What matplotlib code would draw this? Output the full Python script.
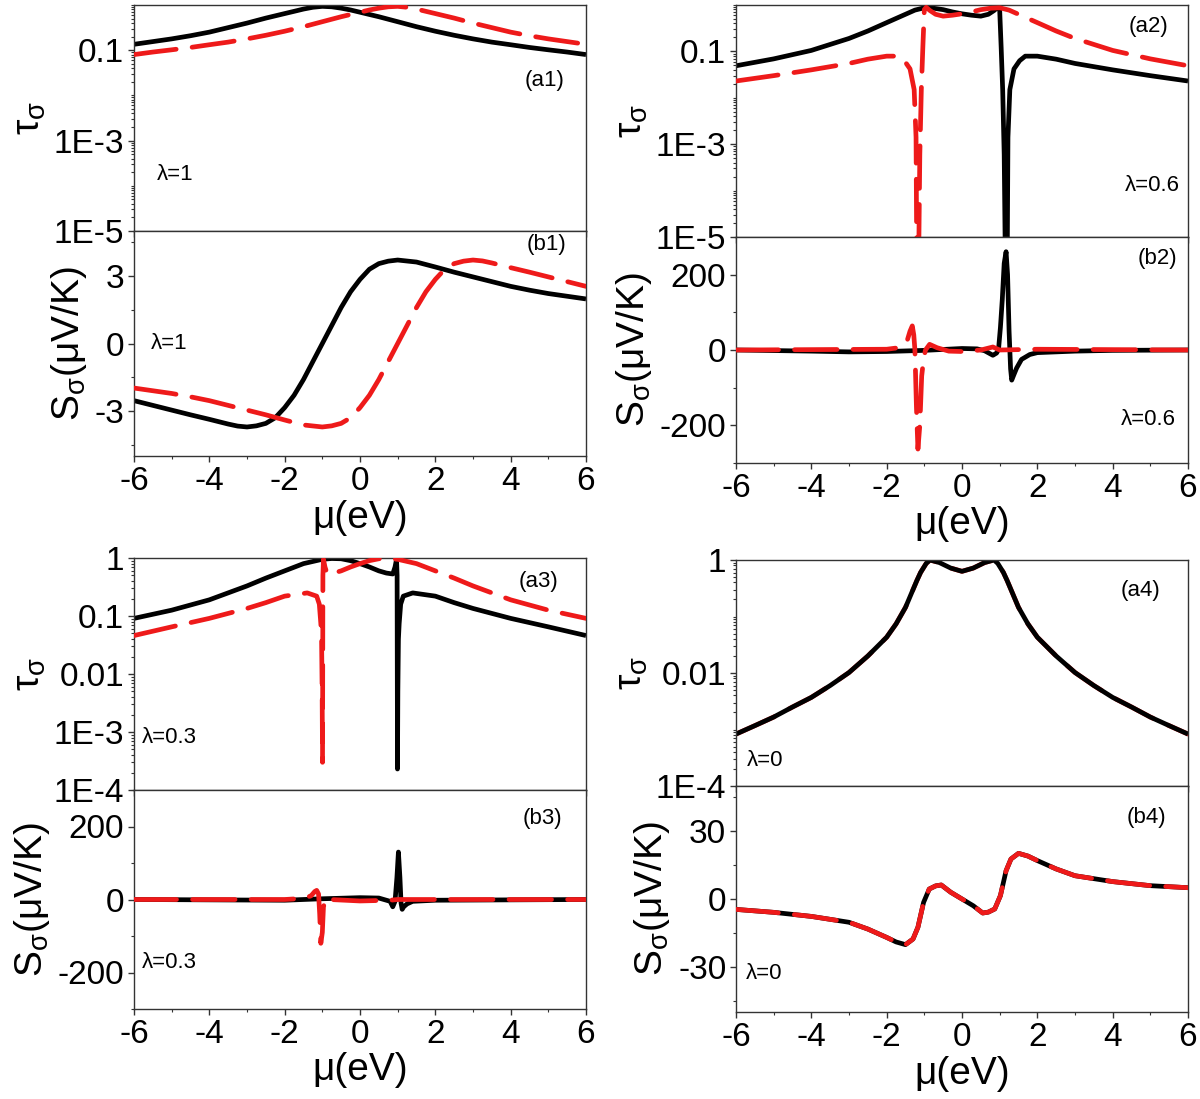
import matplotlib
matplotlib.use('Agg')
import matplotlib.pyplot as plt
import numpy as np
from matplotlib.ticker import FixedLocator, FuncFormatter, MultipleLocator, LogLocator, NullFormatter

plt.rcParams['font.family'] = ['Liberation Sans', 'DejaVu Sans']
plt.rcParams['mathtext.fontset'] = 'custom'
plt.rcParams['mathtext.rm'] = 'Liberation Sans'
plt.rcParams['mathtext.it'] = 'Liberation Sans'
plt.rcParams['mathtext.default'] = 'regular'
plt.rcParams['axes.unicode_minus'] = False

# ---- lambda = 1 ----
mu_a1 = [-6, -5.5, -5, -4.5, -4, -3.5, -3, -2.5, -2, -1.75, -1.5, -1.25, -1, -0.75, -0.5, -0.25, 0,
         0.5, 1, 1.5, 2, 2.5, 3, 3.5, 4, 4.5, 5, 5.5, 6]
tau_a1_k = [0.135, 0.155, 0.178, 0.209, 0.251, 0.316, 0.398, 0.513, 0.646, 0.724, 0.813, 0.891, 0.933, 0.912, 0.851, 0.776, 0.692,
            0.55, 0.427, 0.331, 0.263, 0.214, 0.178, 0.151, 0.132, 0.115, 0.102, 0.091, 0.08]
mu_a1_r = [-6, -5.5, -5, -4.5, -4, -3.5, -3, -2.5, -2, -1.5, -1, -0.5, 0, 0.25, 0.5, 0.75, 1,
           1.25, 1.5, 1.75, 2, 2.5, 3, 3.5, 4, 4.5, 5, 5.5, 6]
tau_a1_r = [0.08, 0.091, 0.102, 0.115, 0.132, 0.151, 0.178, 0.214, 0.263, 0.331, 0.427, 0.55, 0.692, 0.776, 0.851, 0.912, 0.933,
            0.891, 0.813, 0.724, 0.646, 0.513, 0.398, 0.316, 0.251, 0.209, 0.178, 0.155, 0.135]

mu_b1_k = [-6, -5.5, -5, -4.5, -4, -3.5, -3.25, -3, -2.75, -2.5, -2.25, -2, -1.75, -1.5, -1.25, -1, -0.75, -0.5, -0.25, 0,
           0.25, 0.5, 0.75, 1, 1.5, 2, 2.5, 3, 3.5, 4, 4.5, 5, 5.5, 6]
S_b1_k = [-2.54, -2.75, -2.96, -3.17, -3.37, -3.58, -3.67, -3.71, -3.66, -3.55, -3.3, -2.85, -2.3, -1.6, -0.8, 0, 0.8, 1.6, 2.3, 2.85,
          3.3, 3.55, 3.66, 3.71, 3.62, 3.4, 3.17, 2.96, 2.75, 2.54, 2.37, 2.22, 2.1, 1.98]
mu_b1_r = [-6, -5.5, -5, -4.5, -4, -3.5, -3, -2.5, -2, -1.5, -1, -0.75, -0.5, -0.25, 0, 0.25, 0.5, 0.75, 1,
           1.25, 1.5, 1.75, 2, 2.25, 2.5, 2.75, 3, 3.25, 3.5, 4, 4.5, 5, 5.5, 6]
S_b1_r = [-1.98, -2.1, -2.22, -2.37, -2.54, -2.75, -2.96, -3.17, -3.4, -3.62, -3.71, -3.66, -3.55, -3.3, -2.85, -2.3, -1.6, -0.8, 0,
          0.8, 1.6, 2.3, 2.85, 3.3, 3.55, 3.66, 3.71, 3.67, 3.58, 3.37, 3.17, 2.96, 2.75, 2.54]

# ---- lambda = 0.6 ----
mu_a2_k = [-6, -5, -4, -3, -2.5, -2, -1.5, -1.25, -1, -0.75, -0.5, -0.25, 0, 0.25, 0.5, 0.7, 0.85, 0.95, 1.0, 1.04, 1.08, 1.12,
           1.17, 1.19, 1.22, 1.27, 1.38, 1.53, 1.68, 2, 2.5, 3, 4, 5, 6]
tau_a2_k = [0.049, 0.069, 0.105, 0.19, 0.275, 0.417, 0.631, 0.776, 0.871, 0.851, 0.794, 0.708, 0.646, 0.603, 0.575, 0.631, 0.759,
            0.891, 0.8, 0.12, 0.015, 6e-4, 1e-7, 1e-7, 1.4e-3, 0.015, 0.042, 0.063, 0.079, 0.079, 0.068, 0.055, 0.04, 0.03, 0.023]
mu_a2_r = [-6, -5, -4, -3, -2.5, -2, -1.68, -1.53, -1.38, -1.27, -1.22, -1.19, -1.17, -1.12, -1.08, -1.04, -1.0, -0.95, -0.85,
           -0.7, -0.5, -0.25, 0, 0.25, 0.5, 0.75, 1, 1.25, 1.5, 2, 2.5, 3, 4, 5, 6]
tau_a2_r = [0.023, 0.03, 0.04, 0.055, 0.068, 0.079, 0.079, 0.063, 0.042, 0.015, 1.4e-3, 1e-7, 1e-7, 6e-4, 0.015, 0.12, 0.8,
            0.891, 0.759, 0.631, 0.575, 0.603, 0.646, 0.708, 0.794, 0.851, 0.871, 0.776, 0.631, 0.417, 0.275, 0.19, 0.105, 0.069, 0.049]

mu_b2_k = [-6, -4, -3, -2, -1, 0, 0.4, 0.6, 0.82, 0.92, 0.97, 1.02, 1.07, 1.12, 1.17, 1.21, 1.25, 1.29, 1.32, 1.38, 1.45, 1.58,
           1.8, 2, 3, 4, 6]
S_b2_k = [0, -3, -5, -4, -1, 4, 3, -2, -14, -8, 2, 60, 135, 230, 261, 200, 50, -50, -80, -65, -48, -25, -12, -7, -3, -1, 0]
mu_b2_r = [-6, -4, -2, -1.68, -1.47, -1.38, -1.32, -1.28, -1.25, -1.21, -1.17, -1.12, -1.07, -1.02, -0.97, -0.86, -0.66, -0.35,
           0, 0.5, 0.82, 1, 2, 4, 6]
S_b2_r = [0, 1, 2, 6, 20, 50, 64, 40, 0, -150, -263, -200, -69, -25, 0, 15, 6, -3, -4, 0, 8, 0, 2, 1, 0]

# ---- lambda = 0.3 ----
mu_a3_k = [-6, -5, -4, -3, -2.5, -2, -1.5, -1, -0.75, -0.5, -0.25, 0, 0.25, 0.5, 0.7, 0.87, 0.93, 0.97, 0.985, 0.995, 1.005,
           1.02, 1.04, 1.08, 1.15, 1.4, 2, 2.5, 3, 4, 5, 6]
tau_a3_k = [0.091, 0.126, 0.19, 0.33, 0.45, 0.6, 0.8, 0.95, 0.98, 0.97, 0.9, 0.8, 0.7, 0.6, 0.55, 0.53, 0.7, 0.95, 0.5, 2.3e-4,
            0.005, 0.04, 0.074, 0.16, 0.22, 0.25, 0.22, 0.17, 0.135, 0.091, 0.065, 0.046]
mu_a3_r = [-6, -5, -4, -3, -2.5, -2, -1.4, -1.15, -1.08, -1.04, -1.02, -1.005, -0.995, -0.985, -0.97, -0.93, -0.87, -0.7, -0.5,
           -0.25, 0, 0.25, 0.5, 0.75, 1, 1.5, 2, 2.5, 3, 4, 5, 6]
tau_a3_r = [0.046, 0.065, 0.091, 0.135, 0.17, 0.22, 0.25, 0.22, 0.16, 0.074, 0.04, 0.005, 3e-4, 0.5, 0.95, 0.7, 0.53, 0.55, 0.6,
            0.7, 0.8, 0.9, 0.97, 0.98, 0.95, 0.8, 0.6, 0.45, 0.33, 0.19, 0.126, 0.091]

mu_b3_k = [-6, -2, -1, 0, 0.5, 0.8, 0.87, 0.93, 0.98, 1.02, 1.06, 1.09, 1.12, 1.16, 1.25, 1.4, 2, 6]
S_b3_k = [0, -2, 2, 5, 4, -5, -20, -5, 60, 130, 60, -10, -27, -20, -12, -5, -2, 0]
mu_b3_r = [-6, -2, -1.5, -1.3, -1.2, -1.15, -1.1, -1.07, -1.04, -1.0, -0.97, -0.9, -0.8, 0, 0.8, 1, 6]
S_b3_r = [0, 0, 3, 10, 22, 25, 15, -40, -120, -90, -20, 5, 0, -4, -2, 0, 0]

# ---- lambda = 0 ----
mu_a4 = [-6, -5.5, -5, -4.5, -4, -3.5, -3, -2.5, -2, -1.75, -1.5, -1.35, -1.2, -1.1, -0.95, -0.85, -0.6, -0.3, 0,
         0.3, 0.6, 0.85, 0.95, 1.1, 1.2, 1.35, 1.5, 1.75, 2, 2.5, 3, 3.5, 4, 4.5, 5, 5.5, 6]
tau_a4 = [8.3e-4, 1.17e-3, 1.66e-3, 2.5e-3, 3.7e-3, 6e-3, 0.0102, 0.02, 0.043, 0.074, 0.145, 0.25, 0.43, 0.6, 0.87, 1.0, 0.9, 0.72,
          0.63, 0.72, 0.9, 1.0, 0.87, 0.6, 0.43, 0.25, 0.145, 0.074, 0.043, 0.02, 0.0102, 6e-3, 3.7e-3, 2.5e-3, 1.66e-3, 1.17e-3, 8.3e-4]

mu_b4 = [-6, -5, -4, -3, -2.5, -2, -1.75, -1.5, -1.3, -1.17, -1.02, -0.87, -0.7, -0.55, -0.3, 0,
         0.3, 0.55, 0.7, 0.87, 1.02, 1.17, 1.3, 1.5, 1.75, 2, 2.5, 3, 4, 5, 6]
S_b4 = [-4.6, -5.9, -7.7, -10.3, -13.3, -17, -19, -20.2, -17.7, -12.5, -1.5, 4.4, 5.8, 6.2, 3, 0,
        -3, -6.2, -5.8, -4.4, 1.5, 12.5, 17.7, 20.2, 19, 17, 13.3, 10.3, 7.7, 5.9, 5.0]

W, H = 1200, 1099
fig = plt.figure(figsize=(W / 100, H / 100), dpi=100)


def rect(l, r, top, bot):
    return [l / W, 1 - bot / H, (r - l) / W, (bot - top) / H]


def logfmt(v, pos):
    if v >= 0.01:
        return '%g' % v
    return '1E%d' % int(round(np.log10(v)))


TICK = 24
LAB = 28
ANN = 16
LW = 3.4
DASH = (9, 3.4)
SPINE = '#333333'


def style(ax):
    for s in ['top', 'right', 'left', 'bottom']:
        ax.spines[s].set_color(SPINE)
        ax.spines[s].set_linewidth(1.0)
    ax.tick_params(which='both', direction='out', top=False, right=False, colors=SPINE, labelcolor='black')
    ax.tick_params(which='major', length=4.5, width=1, labelsize=TICK, pad=2.5)
    ax.tick_params(which='minor', length=2.5, width=0.8)
    ax.set_xlim(-6, 6)
    ax.xaxis.set_major_locator(MultipleLocator(2))
    ax.xaxis.set_minor_locator(MultipleLocator(1))
    ax.xaxis.set_major_formatter(FuncFormatter(lambda v, p: '%d' % round(v)))


def tau_axis(ax, lo, majors):
    ax.set_yscale('log')
    ax.set_ylim(lo, 1)
    ax.yaxis.set_major_locator(FixedLocator(majors))
    ax.yaxis.set_major_formatter(FuncFormatter(logfmt))
    ax.yaxis.set_minor_locator(LogLocator(base=10, subs=np.arange(1, 10), numticks=50))
    ax.yaxis.set_minor_formatter(NullFormatter())
    ax.tick_params(axis='x', labelbottom=False)
    ax.set_ylabel(r'$\tau_\sigma$', fontsize=LAB)


def s_axis(ax, lim, major, minor):
    ax.set_ylim(-lim, lim)
    ax.yaxis.set_major_locator(MultipleLocator(major))
    ax.yaxis.set_minor_locator(MultipleLocator(minor))
    ax.yaxis.set_major_formatter(FuncFormatter(lambda v, p: '%d' % round(v)))
    ax.set_ylabel(r'$S_\sigma$(μV/K)', fontsize=LAB)
    ax.set_xlabel('μ(eV)', fontsize=LAB, labelpad=2)


def black(ax, x, y):
    ax.plot(x, y, color='black', lw=LW, solid_capstyle='butt', zorder=2)


def red(ax, x, y, z=3):
    ax.plot(x, y, color='#ee1a1a', lw=LW, dashes=DASH, dash_capstyle='round', zorder=z)


# group 1
a1 = fig.add_axes(rect(134, 586, 5, 231))
b1 = fig.add_axes(rect(134, 586, 231, 456))
# group 2
a2 = fig.add_axes(rect(736, 1188, 5, 237))
b2 = fig.add_axes(rect(736, 1188, 237, 463))
# group 3
a3 = fig.add_axes(rect(134, 586, 558, 790))
b3 = fig.add_axes(rect(134, 586, 790, 1009))
# group 4
a4 = fig.add_axes(rect(736, 1188, 560, 786))
b4 = fig.add_axes(rect(736, 1188, 786, 1012))

for ax in [a1, b1, a2, b2, a3, b3, a4, b4]:
    style(ax)

tau_axis(a1, 1e-5, [1e-5, 1e-3, 1e-1])
tau_axis(a2, 1e-5, [1e-5, 1e-3, 1e-1])
tau_axis(a3, 1e-4, [1e-4, 1e-3, 1e-2, 1e-1, 1])
tau_axis(a4, 1e-4, [1e-4, 1e-2, 1])

s_axis(b1, 5, 3, 1.5)
s_axis(b2, 300, 200, 100)
s_axis(b3, 300, 200, 100)
s_axis(b4, 50, 30, 15)

black(a1, mu_a1, tau_a1_k)
red(a1, mu_a1_r, tau_a1_r)
black(b1, mu_b1_k, S_b1_k)
red(b1, mu_b1_r, S_b1_r)

black(a2, mu_a2_k, tau_a2_k)
red(a2, mu_a2_r, tau_a2_r)
black(b2, mu_b2_k, S_b2_k)
red(b2, mu_b2_r, S_b2_r)

black(a3, mu_a3_k, tau_a3_k)
red(a3, mu_a3_r, tau_a3_r)
black(b3, mu_b3_k, S_b3_k)
red(b3, mu_b3_r, S_b3_r)

red(a4, mu_a4, tau_a4, z=1)
black(a4, mu_a4, tau_a4)
black(b4, mu_b4, S_b4)
red(b4, mu_b4, S_b4)

# panel tags and lambda labels
a1.text(4.9, 0.021, '(a1)', fontsize=ANN, ha='center', va='center')
a1.text(-5.4, 1.8e-4, 'λ=1', fontsize=ANN, ha='left', va='center')
b1.text(4.95, 4.4, '(b1)', fontsize=ANN, ha='center', va='center')
b1.text(-5.55, 0, 'λ=1', fontsize=ANN, ha='left', va='center')

a2.text(4.95, 0.35, '(a2)', fontsize=ANN, ha='center', va='center')
a2.text(5.05, 1.3e-4, 'λ=0.6', fontsize=ANN, ha='center', va='center')
b2.text(5.2, 242, '(b2)', fontsize=ANN, ha='center', va='center')
b2.text(4.95, -185, 'λ=0.6', fontsize=ANN, ha='center', va='center')

a3.text(4.75, 0.4, '(a3)', fontsize=ANN, ha='center', va='center')
a3.text(-5.8, 8e-4, 'λ=0.3', fontsize=ANN, ha='left', va='center')
b3.text(4.85, 222, '(b3)', fontsize=ANN, ha='center', va='center')
b3.text(-5.8, -173, 'λ=0.3', fontsize=ANN, ha='left', va='center')

a4.text(4.75, 0.29, '(a4)', fontsize=ANN, ha='center', va='center')
a4.text(-5.7, 2.8e-4, 'λ=0', fontsize=ANN, ha='left', va='center')
b4.text(4.9, 36, '(b4)', fontsize=ANN, ha='center', va='center')
b4.text(-5.75, -33, 'λ=0', fontsize=ANN, ha='left', va='center')

fig.savefig('out.png', dpi=100)
